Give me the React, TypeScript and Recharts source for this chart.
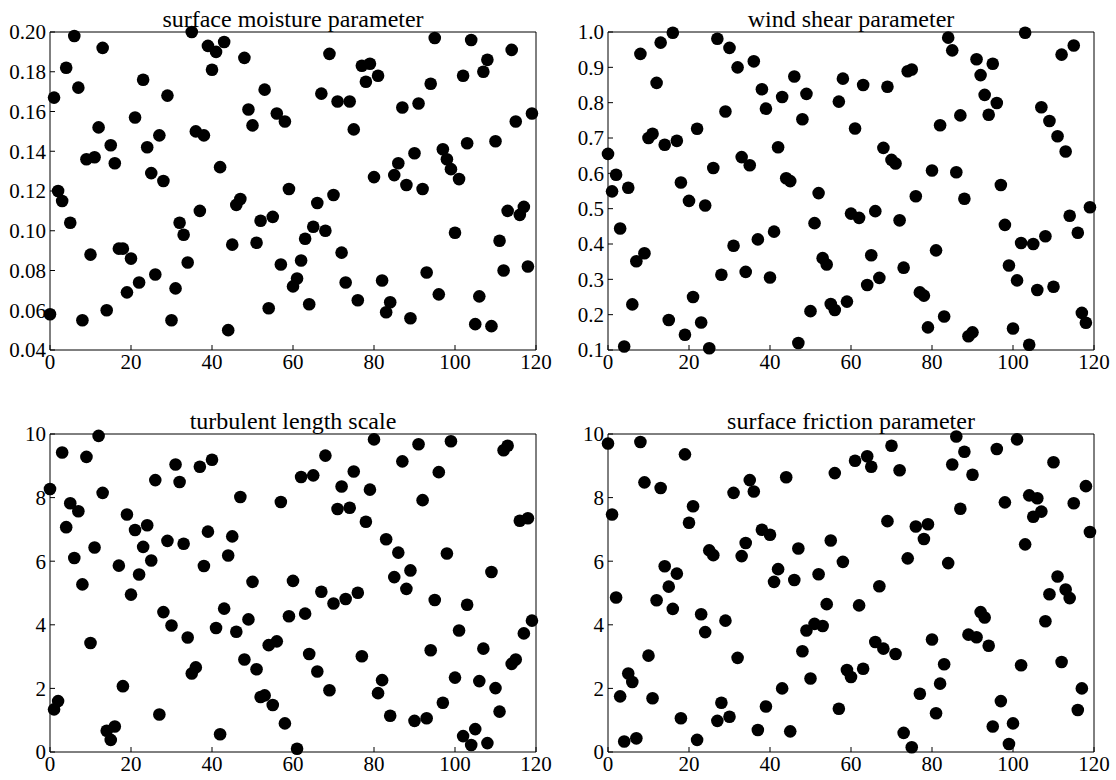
import { Scatter, ScatterChart, XAxis, YAxis } from "recharts";

// values, one per sample index 0..119
const moisture = [
  0.058, 0.167, 0.12, 0.115, 0.182, 0.104, 0.198, 0.172, 0.055, 0.136,
  0.088, 0.137, 0.152, 0.192, 0.06, 0.143, 0.134, 0.091, 0.091, 0.069,
  0.086, 0.157, 0.074, 0.176, 0.142, 0.129, 0.078, 0.148, 0.125, 0.168,
  0.055, 0.071, 0.104, 0.098, 0.084, 0.2, 0.15, 0.11, 0.148, 0.193,
  0.181, 0.19, 0.132, 0.195, 0.05, 0.093, 0.113, 0.116, 0.187, 0.161,
  0.153, 0.094, 0.105, 0.171, 0.061, 0.107, 0.159, 0.083, 0.155, 0.121,
  0.072, 0.076, 0.085, 0.096, 0.063, 0.102, 0.114, 0.169, 0.1, 0.189,
  0.118, 0.165, 0.089, 0.074, 0.165, 0.151, 0.065, 0.183, 0.175, 0.184,
  0.127, 0.178, 0.075, 0.059, 0.064, 0.128, 0.134, 0.162, 0.123, 0.056,
  0.139, 0.164, 0.121, 0.079, 0.174, 0.197, 0.068, 0.141, 0.136, 0.131,
  0.099, 0.126, 0.178, 0.144, 0.196, 0.053, 0.067, 0.18, 0.186, 0.052,
  0.145, 0.095, 0.08, 0.11, 0.191, 0.155, 0.108, 0.112, 0.082, 0.159,
];

const shear = [
  0.655, 0.549, 0.596, 0.444, 0.11, 0.559, 0.229, 0.351, 0.938, 0.374,
  0.7, 0.712, 0.856, 0.97, 0.681, 0.185, 0.998, 0.692, 0.574, 0.143,
  0.522, 0.25, 0.726, 0.178, 0.509, 0.105, 0.615, 0.981, 0.313, 0.775,
  0.955, 0.395, 0.9, 0.646, 0.321, 0.623, 0.917, 0.413, 0.838, 0.783,
  0.305, 0.435, 0.674, 0.816, 0.586, 0.578, 0.874, 0.12, 0.753, 0.825,
  0.21, 0.459, 0.544, 0.36, 0.342, 0.23, 0.213, 0.803, 0.868, 0.237,
  0.486, 0.727, 0.474, 0.85, 0.284, 0.368, 0.493, 0.304, 0.672, 0.845,
  0.638, 0.628, 0.467, 0.333, 0.889, 0.894, 0.535, 0.263, 0.254, 0.164,
  0.608, 0.382, 0.736, 0.195, 0.984, 0.948, 0.603, 0.764, 0.528, 0.139,
  0.15, 0.923, 0.878, 0.822, 0.766, 0.91, 0.799, 0.567, 0.454, 0.339,
  0.161, 0.297, 0.403, 0.998, 0.115, 0.4, 0.27, 0.787, 0.422, 0.748,
  0.279, 0.705, 0.936, 0.662, 0.48, 0.962, 0.432, 0.205, 0.177, 0.504,
];

const turbLength = [
  8.27, 1.34, 1.6, 9.42, 7.07, 7.82, 6.1, 7.57, 5.27, 9.28,
  3.43, 6.43, 9.94, 8.15, 0.67, 0.38, 0.8, 5.86, 2.07, 7.47,
  4.95, 6.98, 5.58, 6.45, 7.13, 6.02, 8.55, 1.18, 4.4, 6.64,
  3.98, 9.04, 8.49, 6.55, 3.6, 2.47, 2.66, 8.97, 5.85, 6.93,
  9.19, 3.9, 0.56, 4.51, 6.18, 6.78, 3.78, 8.02, 2.91, 4.17,
  5.35, 2.6, 1.73, 1.78, 3.36, 1.48, 3.48, 7.86, 0.9, 4.27,
  5.38, 0.1, 8.65, 4.35, 3.08, 8.7, 2.53, 5.04, 9.32, 1.94,
  4.67, 7.64, 8.35, 4.81, 7.68, 8.82, 5.01, 3.01, 7.24, 8.25,
  9.83, 1.85, 2.26, 6.69, 1.14, 5.5, 6.27, 9.14, 5.13, 5.71,
  0.98, 9.68, 7.92, 1.06, 3.2, 4.78, 8.8, 1.55, 6.24, 9.77,
  2.34, 3.82, 0.5, 4.63, 0.22, 0.72, 2.23, 3.25, 0.28, 5.66,
  2.01, 1.27, 9.49, 9.63, 2.77, 2.91, 7.27, 3.73, 7.35, 4.13,
];

const friction = [
  9.7, 7.47, 4.86, 1.75, 0.33, 2.47, 2.2, 0.43, 9.75, 8.48,
  3.03, 1.69, 4.77, 8.3, 5.84, 5.2, 4.5, 5.61, 1.06, 9.36,
  7.21, 7.73, 0.38, 4.33, 3.77, 6.34, 6.19, 0.98, 1.55, 4.13,
  1.11, 8.15, 2.96, 6.16, 6.57, 8.55, 8.19, 0.69, 6.99, 1.43,
  6.83, 5.35, 5.75, 2.0, 8.64, 0.65, 5.41, 6.4, 3.17, 3.82,
  2.31, 4.03, 5.59, 3.96, 4.65, 6.65, 8.77, 1.36, 5.98, 2.58,
  2.36, 9.16, 4.61, 2.62, 9.3, 8.97, 3.46, 5.21, 3.25, 7.26,
  9.63, 3.08, 8.86, 0.6, 6.09, 0.15, 7.09, 1.83, 6.7, 7.16,
  3.54, 1.22, 2.15, 2.76, 5.94, 9.04, 9.92, 7.65, 9.44, 3.69,
  8.72, 3.61, 4.4, 4.23, 3.34, 0.8, 9.53, 1.6, 7.85, 0.25,
  0.9, 9.83, 2.73, 6.53, 8.07, 7.4, 7.98, 7.56, 4.11, 4.96,
  9.11, 5.52, 2.83, 5.11, 4.84, 7.82, 1.32, 2.0, 8.36, 6.92,
];

const xTicks = [0, 20, 40, 60, 80, 100, 120];
const moistureTicks = [0.04, 0.06, 0.08, 0.1, 0.12, 0.14, 0.16, 0.18, 0.2];
const shearTicks = [0.1, 0.2, 0.3, 0.4, 0.5, 0.6, 0.7, 0.8, 0.9, 1.0];
const tenTicks = [0, 2, 4, 6, 8, 10];

const FONT = "'Liberation Serif', 'DejaVu Serif', serif";
const PLOT_W = 486;
const PLOT_H = 318;
const Y_W = 56;
const M_TOP = 14;
const M_RIGHT = 22;

const Dot = (props: any) => <circle cx={props.cx} cy={props.cy} r={6.3} fill="#000" />;

function Panel({ title, values, ticks, fmt, left, top }: {
  title: string; values: number[]; ticks: number[]; fmt: (v: number) => string; left: number; top: number;
}) {
  const data = values.map((v, i) => ({ x: i, y: v }));
  const domain = [ticks[0], ticks[ticks.length - 1]];
  const tickStyle = { fill: "#000", fontSize: 21, fontFamily: FONT };
  return (
    <div style={{ position: "absolute", left: left - Y_W, top: top - M_TOP - 1 }}>
      <svg width={PLOT_W + Y_W} height={30} style={{ position: "absolute", left: 0, top: M_TOP + 1 - 32, overflow: "visible" }}>
        <text x={Y_W + PLOT_W / 2} y={27} textAnchor="middle" fontFamily={FONT} fontSize={24} fill="#000">{title}</text>
      </svg>
      <ScatterChart width={Y_W + PLOT_W + 1 + M_RIGHT} height={M_TOP + 1 + PLOT_H + 36}
        margin={{ top: M_TOP, right: M_RIGHT, bottom: 0, left: 0 }}>
        <XAxis dataKey="x" type="number" domain={[0, 120]} ticks={xTicks} interval={0} height={36}
          tickSize={-5} tickMargin={9} tick={tickStyle} stroke="#000" />
        <XAxis xAxisId="top" orientation="top" type="number" domain={[0, 120]} ticks={xTicks} interval={0} height={1}
          tickSize={-5} tick={false} stroke="#000" />
        <YAxis dataKey="y" type="number" domain={domain} ticks={ticks} interval={0} width={Y_W}
          tickSize={-5} tickMargin={9} tick={tickStyle} tickFormatter={fmt} stroke="#000" />
        <YAxis yAxisId="right" orientation="right" type="number" domain={domain} ticks={ticks} interval={0} width={1}
          tickSize={-5} tick={false} stroke="#000" />
        <Scatter data={data} shape={Dot} isAnimationActive={false} />
      </ScatterChart>
    </div>
  );
}

export default function App() {
  return (
    <div style={{ position: "absolute", left: 0, top: 0, width: 1116, height: 780, background: "#fff", overflow: "hidden" }}>
      <Panel title="surface moisture parameter" values={moisture} ticks={moistureTicks} fmt={(v) => v.toFixed(2)} left={50} top={32} />
      <Panel title="wind shear parameter" values={shear} ticks={shearTicks} fmt={(v) => v.toFixed(1)} left={608} top={32} />
      <Panel title="turbulent length scale" values={turbLength} ticks={tenTicks} fmt={(v) => String(v)} left={50} top={434} />
      <Panel title="surface friction parameter" values={friction} ticks={tenTicks} fmt={(v) => String(v)} left={608} top={434} />
    </div>
  );
}
